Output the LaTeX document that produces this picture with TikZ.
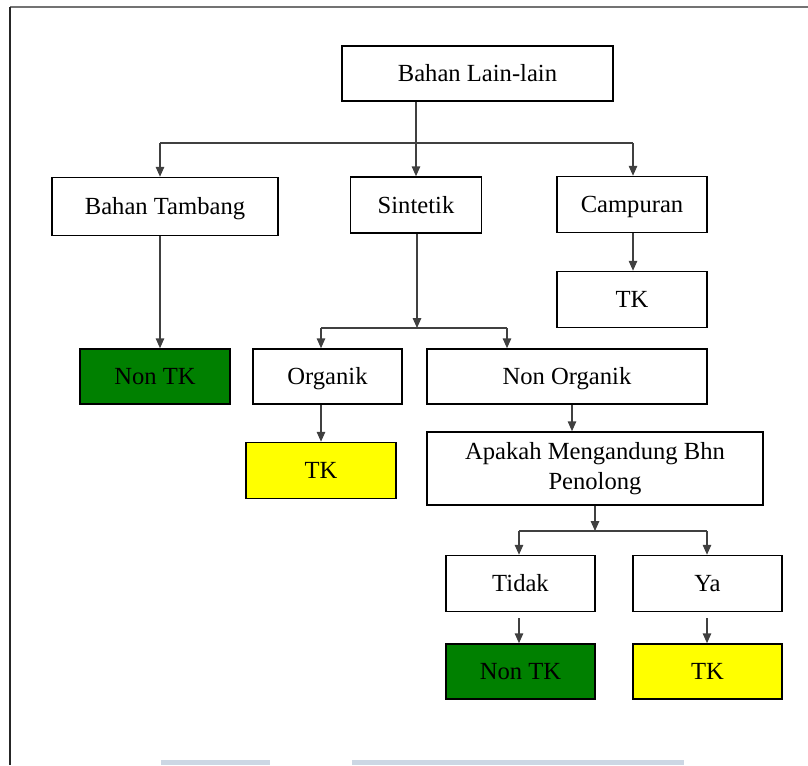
\documentclass[tikz,border=0pt]{standalone}
\usepackage{fontspec}
\setmainfont{Liberation Serif}
\usetikzlibrary{arrows.meta}
\definecolor{tkgreen}{RGB}{0,128,0}
\definecolor{tkyellow}{RGB}{255,255,0}
\definecolor{wmblue}{RGB}{204,215,228}

\begin{document}
\begin{tikzpicture}[x=0.025cm,y=-0.025cm,
                    plainbox/.style={draw,line width=1.1pt,inner sep=2pt,
                      minimum width=3.75cm,minimum height=1.4cm,
                      font=\fontsize{17.5}{21}\selectfont},
                    box/.style={plainbox,text height=11.6pt,text depth=0pt},
                    conn/.style={draw=black!75,line width=0.9pt},
                    arr/.style={conn,-{Triangle[width=6pt,length=7pt]}}]

  \useasboundingbox (0,0) rectangle (808,765);
  \draw[black!55,line width=1.6pt] (10,7) -- (808,7);
  \draw[black!85,line width=1pt] (10,7) -- (10,765);

  \node[box,minimum width=6.775cm,minimum height=1.375cm] (lain) at (477.5,73.5) {Bahan Lain-lain};
  \node[box,minimum width=5.65cm,minimum height=1.45cm] (tambang) at (165,206.5) {Bahan Tambang};
  \node[box,minimum width=3.275cm] (sintetik) at (416,205) {Sintetik};
  \node[box] (campuran) at (632,204.5) {Campuran};
  \node[box] (tk1) at (632,299.5) {TK};
  \node[box,fill=tkgreen,minimum height=1.375cm] (nontk1) at (155,376.5) {Non TK};
  \node[box,minimum width=3.725cm,minimum height=1.375cm] (organik) at (327.5,376.5) {Organik};
  \node[box,minimum width=7cm,minimum height=1.375cm] (nonorganik) at (567,376.5) {Non Organik};
  \node[box,fill=tkyellow] (tk2) at (321,470.5) {TK};
  \node[plainbox,minimum width=8.4cm,minimum height=1.825cm,align=center] (apakah) at (595,468.5)
       {Apakah Mengandung Bhn\\Penolong};
  \node[box,minimum width=3.725cm] (tidak) at (520.5,583.5) {Tidak};
  \node[box,minimum width=3.725cm] (ya) at (707.5,583.5) {Ya};
  \node[box,fill=tkgreen,minimum width=3.725cm,minimum height=1.375cm] (nontk2) at (520.5,671.5) {Non TK};
  \node[box,fill=tkyellow,minimum width=3.725cm,minimum height=1.375cm] (tk3) at (707.5,671.5) {TK};

  % first split
  \coordinate (j1) at (416,143);
  \coordinate (j1l) at (160,143);
  \coordinate (j1r) at (633,143);
  \draw[conn] (lain.south -| j1) -- (j1);
  \draw[conn] (j1l) -- (j1r);
  \draw[arr] (j1l) -- (j1l |- tambang.north);
  \draw[arr] (j1) -- (sintetik);
  \draw[arr] (j1r) -- (j1r |- campuran.north);
  \draw[arr] (tambang.south -| j1l) -- (j1l |- nontk1.north);
  \draw[arr] (campuran.south -| j1r) -- (j1r |- tk1.north);

  \coordinate (j2) at (417,328);
  \coordinate (j2l) at (321,328);
  \coordinate (j2r) at (507,328);
  \draw[arr] (sintetik.south -| j2) -- (j2);
  \draw[conn] (j2l) -- (j2r);
  \draw[arr] (j2l) -- (j2l |- organik.north);
  \draw[arr] (j2r) -- (j2r |- nonorganik.north);
  \draw[arr] (organik.south -| j2l) -- (j2l |- tk2.north);
  \draw[arr] ([xshift=0.125cm]nonorganik.south) coordinate (n1) -- (n1 |- apakah.north);

  \coordinate (j4) at (595,531);
  \coordinate (j4l) at (519,531);
  \coordinate (j4r) at (707,531);
  \draw[arr] (apakah) -- (j4);
  \draw[conn] (j4l) -- (j4r);
  \draw[arr] (j4l) -- (j4l |- tidak.north);
  \draw[arr] (j4r) -- (j4r |- ya.north);
  \draw[arr] ([yshift=-0.15cm]tidak.south -| j4l) -- (j4l |- nontk2.north);
  \draw[arr] ([yshift=-0.15cm]ya.south -| j4r) -- (j4r |- tk3.north);

  \fill[wmblue] (161,760) rectangle (270,765);
  \fill[wmblue] (352,760) rectangle (684,765);
\end{tikzpicture}
\end{document}
